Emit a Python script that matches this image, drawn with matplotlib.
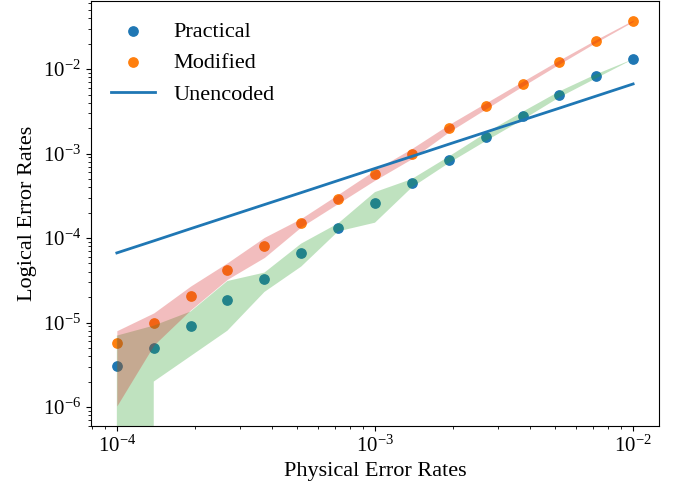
import matplotlib
matplotlib.use('Agg')
from matplotlib import pyplot as plt

# physical error rates (x)
phys = [1.0e-4, 1.39e-4, 1.93e-4, 2.68e-4, 3.73e-4, 5.18e-4, 7.20e-4, 1.0e-3,
        1.39e-3, 1.93e-3, 2.68e-3, 3.73e-3, 5.18e-3, 7.20e-3, 1.0e-2]

# practical decoder: logical error rate and band
practical = [3.1e-6, 5.0e-6, 9.1e-6, 1.85e-5, 3.3e-5, 6.6e-5, 1.31e-4, 2.58e-4,
             4.48e-4, 8.4e-4, 1.56e-3, 2.8e-3, 5.0e-3, 8.2e-3, 1.31e-2]
practical_lo = [0.0, 2.0e-6, 4.0e-6, 8.0e-6, 2.3e-5, 4.6e-5, 1.2e-4, 1.52e-4,
                3.98e-4, 7.7e-4, 1.40e-3, 2.51e-3, 4.63e-3, 7.8e-3, 1.31e-2]
practical_hi = [7.0e-6, 9.2e-6, 1.35e-5, 3.1e-5, 3.9e-5, 8.6e-5, 1.49e-4, 3.5e-4,
                5.0e-4, 9.2e-4, 1.74e-3, 3.12e-3, 5.45e-3, 8.7e-3, 1.31e-2]

# modified decoder: logical error rate and band
modified = [5.7e-6, 1.0e-5, 2.04e-5, 4.15e-5, 8.0e-5, 1.51e-4, 2.9e-4, 5.7e-4,
            1.0e-3, 1.99e-3, 3.65e-3, 6.7e-3, 1.21e-2, 2.16e-2, 3.73e-2]
modified_lo = [1.03e-6, 5.4e-6, 1.41e-5, 3.25e-5, 5.9e-5, 1.36e-4, 2.57e-4, 4.85e-4,
               8.7e-4, 1.8e-3, 3.36e-3, 6.28e-3, 1.15e-2, 2.08e-2, 3.66e-2]
modified_hi = [8.0e-6, 1.3e-5, 2.7e-5, 5.1e-5, 1.02e-4, 1.71e-4, 3.29e-4, 6.4e-4,
               1.15e-3, 2.2e-3, 3.96e-3, 7.15e-3, 1.28e-2, 2.24e-2, 3.8e-2]

# unencoded qubit
unencoded = [6.67e-5, 9.26e-5, 1.29e-4, 1.79e-4, 2.49e-4, 3.45e-4, 4.80e-4, 6.67e-4,
             9.26e-4, 1.29e-3, 1.79e-3, 2.49e-3, 3.45e-3, 4.80e-3, 6.67e-3]

plt.rcParams['font.family'] = ['Liberation Serif', 'DejaVu Serif']
plt.rcParams['mathtext.fontset'] = 'stix'

fig = plt.figure(figsize=(6.76, 4.93), dpi=100)
ax = fig.add_axes([0.1346, 0.1359, 0.8403, 0.8621])

h1 = ax.scatter(phys, practical, s=45, color='C0', label='Practical')
h2 = ax.scatter(phys, modified, s=45, color='C1', label='Modified')
ax.fill_between(phys, practical_lo, practical_hi, color='C2', alpha=0.3, linewidth=0)
ax.fill_between(phys, modified_lo, modified_hi, color='C3', alpha=0.3, linewidth=0)
h3, = ax.plot(phys, unencoded, color='C0', linewidth=2, label='Unencoded')

ax.set_xscale('log')
ax.set_yscale('log')
ax.set_xlim(7.94e-5, 1.26e-2)
ax.set_ylim(5.96e-7, 6.4e-2)

ax.set_xlabel('Physical Error Rates', fontsize=16)
ax.set_ylabel('Logical Error Rates', fontsize=16)
ax.tick_params(labelsize=15)

ax.legend(handles=[h1, h2, h3], loc='upper left', fontsize=16, frameon=False)

fig.savefig('out.png', dpi=100)
